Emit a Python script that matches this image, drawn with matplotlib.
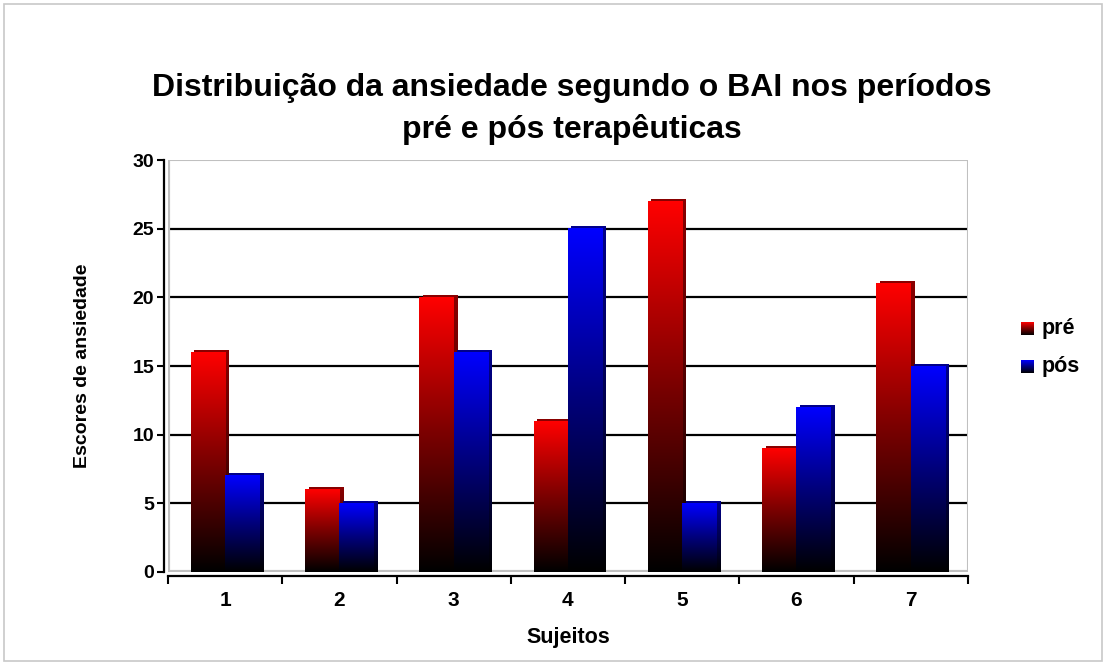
import numpy as np
import matplotlib.pyplot as plt
from matplotlib.colors import LinearSegmentedColormap
from matplotlib.patches import Rectangle

plt.rcParams['font.family'] = ['Liberation Sans', 'DejaVu Sans']
plt.rcParams['font.weight'] = 'bold'

sujeitos = ['1', '2', '3', '4', '5', '6', '7']
pre = [16, 6, 20, 11, 27, 9, 21]
pos = [7, 5, 16, 25, 5, 12, 15]
series = ['pré', 'pós']

cm_red = LinearSegmentedColormap.from_list('r', ['#000000', '#7a0000', '#ff0000'])
cm_blue = LinearSegmentedColormap.from_list('b', ['#000000', '#00007a', '#0000ff'])
cm_red_sh = LinearSegmentedColormap.from_list('rs', ['#000000', '#500000', '#8a0000'])
cm_blue_sh = LinearSegmentedColormap.from_list('bs', ['#000000', '#000050', '#00008a'])
grad = np.linspace(0, 1, 256).reshape(-1, 1)

fig = plt.figure(figsize=(11.06, 6.65), dpi=100)
ax = fig.add_axes([0.152, 0.140, 0.723, 0.619])

w = 0.3
for i in range(len(sujeitos)):
    for vals, x0, cm, cms in [(pre, i - w, cm_red, cm_red_sh), (pos, i, cm_blue, cm_blue_sh)]:
        h = vals[i]
        # lado / topo 3d
        ax.imshow(grad, extent=[x0 + 0.03, x0 + w + 0.03, 0, h + 0.15], origin='lower',
                  aspect='auto', cmap=cms, zorder=3)
        ax.imshow(grad, extent=[x0, x0 + w, 0, h], origin='lower',
                  aspect='auto', cmap=cm, zorder=4)

ax.set_xlim(-0.5, 6.5)
ax.set_ylim(0, 30)
ax.set_yticks(range(0, 31, 5))
for y in range(5, 30, 5):
    ax.axhline(y, color='black', lw=1.6, zorder=1)
ax.axhline(30, color='#c0c0c0', lw=1.5, zorder=1)
ax.axvline(-0.5, color='#c0c0c0', lw=3, zorder=2)
ax.axhline(0, color='#c0c0c0', lw=3, zorder=2)
ax.axvline(6.5, color='#c0c0c0', lw=1.5, zorder=1)

ax.set_xticks(np.arange(-0.5, 7, 1))
ax.set_xticklabels([])
ax.set_xticks(range(7), minor=True)
ax.set_xticklabels(sujeitos, minor=True)
ax.tick_params(axis='x', which='minor', length=0, pad=11, labelsize=15)
ax.tick_params(axis='x', which='major', length=6, width=1.5, direction='out')
ax.tick_params(axis='y', length=5, width=1.5, labelsize=14, pad=2)
for lab in ax.get_yticklabels() + ax.get_xticklabels(minor=True):
    lab.set_fontweight('bold')

for s in ['top', 'right']:
    ax.spines[s].set_visible(False)
for s in ['left', 'bottom']:
    ax.spines[s].set_linewidth(1.6)
    ax.spines[s].set_position(('outward', 3))

ax.set_xlabel('Sujeitos', fontsize=15.5, fontweight='bold', labelpad=12)
ax.set_ylabel('Escores de ansiedade', fontsize=14, fontweight='bold', labelpad=30)

fig.text(0.517, 0.836, 'Distribuição da ansiedade segundo o BAI nos períodos\npré e pós terapêuticas',
         ha='center', va='center', fontsize=23, fontweight='bold', linespacing=1.45)

# legenda
for k, (name, cm) in enumerate(zip(series, [cm_red, cm_blue])):
    yc = 1 - (328.5 + 38 * k) / 665
    lax = fig.add_axes([1021 / 1106, yc - 6.5 / 665, 13 / 1106, 13 / 665])
    lax.imshow(grad, origin='lower', aspect='auto', cmap=cm, extent=[0, 1, 0, 1])
    lax.axis('off')
    fig.text(1042 / 1106, yc, name, ha='left', va='center', fontsize=15.5, fontweight='bold')

fig.add_artist(Rectangle((0.004, 0.006), 0.992, 0.988, transform=fig.transFigure,
                         fill=False, edgecolor='#c8c8c8', lw=1.2))

fig.savefig('out.png', dpi=100)
